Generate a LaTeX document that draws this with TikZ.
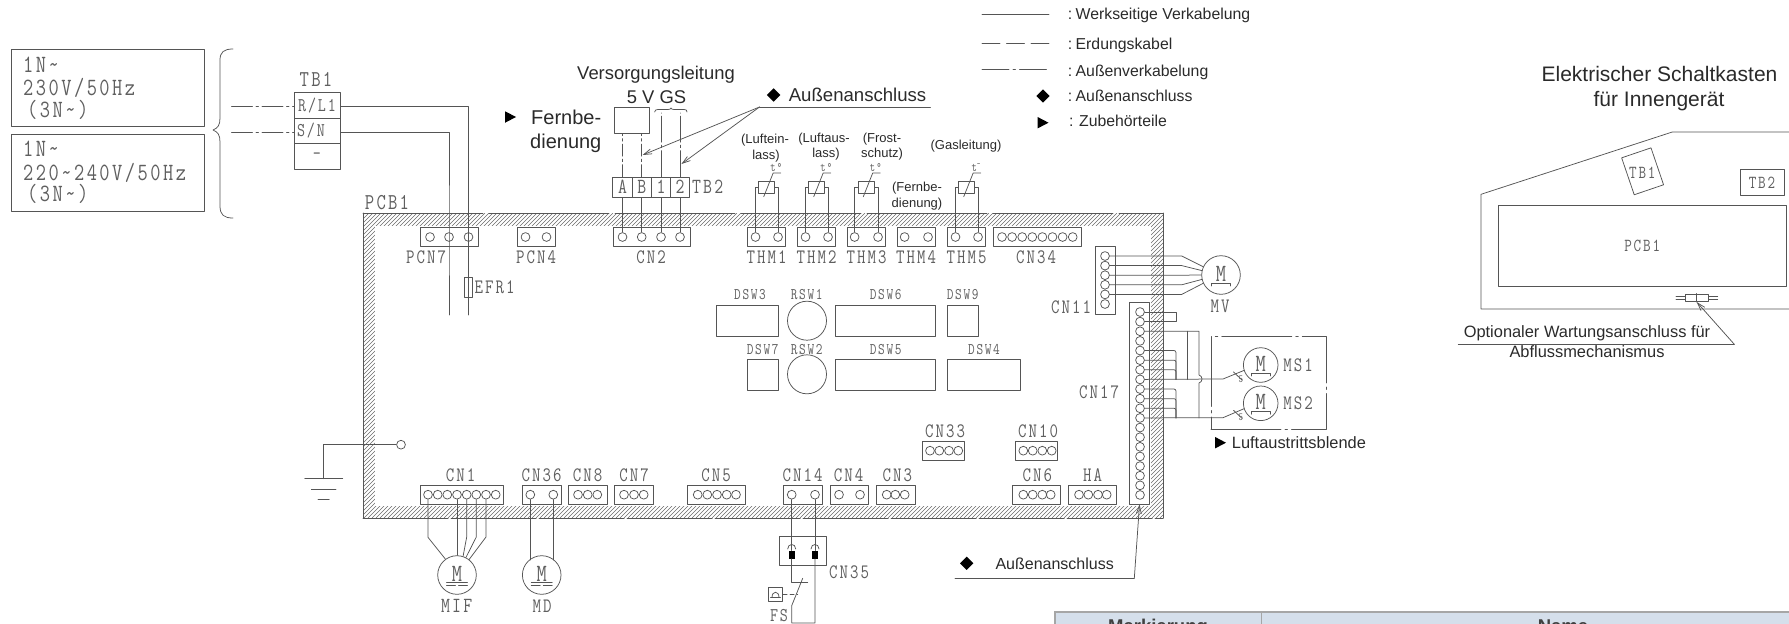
\documentclass[tikz,border=0pt]{standalone}
\usepackage{fontspec}
\setmainfont{Liberation Sans}
\newfontfamily\cadfont[FakeStretch=.8,LetterSpace=10,Scale=1.08]{Latin Modern Mono}
\usetikzlibrary{arrows.meta,shapes.geometric}
\definecolor{wirecol}{HTML}{555555}
\definecolor{cadcol}{HTML}{5F5F5F}
\definecolor{txtcol}{HTML}{2A2A2A}
\definecolor{hatchcol}{HTML}{6A6A6A}
\definecolor{headcol}{HTML}{D5DFEB}
\newcommand{\tld}{\textasciitilde}
\tikzset{
	wire/.style={draw=wirecol,line width=.75pt},
	cad/.style={font=\cadfont\fontsize{#1}{#1}\selectfont,text=cadcol,inner sep=0pt},
	cad/.default=19,
	sans/.style={font=\fontsize{#1}{#1}\selectfont,text=txtcol,inner sep=0pt},
	sans/.default=16,
	cnbox/.style={wire,rectangle,inner sep=0pt,minimum height=19pt},
	pinnode/.style={wire,circle,inner sep=0pt,minimum size=8.8pt},
	swbox/.style={wire,rectangle,inner sep=0pt},
	motor/.style={wire,circle,inner sep=0pt,minimum size=#1,cad=23},
	motor/.default=38.6pt,
	markD/.style={diamond,fill=black,inner sep=0pt,minimum size=13.5pt},
	markT/.style={isosceles triangle,isosceles triangle apex angle=60,isosceles triangle stretches,fill=black,inner sep=0pt,minimum width=11.5pt,minimum height=11pt},
	dashdot/.style={dash pattern=on 21pt off 3.5pt on 2.5pt off 3.5pt},
}
\newcommand{\pinrow}[3]{\foreach \x [count=\i] in {#3} \node[pinnode] (#1-\i) at (\x,#2) {};}
\begin{document}
\begin{tikzpicture}[x=1pt,y=-1pt,line join=round,line cap=round,>={Straight Barb[length=8pt,width=5pt]}]
	\useasboundingbox (0,0) rectangle (1789,624);
	% voltage boxes
	\node[swbox,minimum width=193pt,minimum height=77pt] (volt1) at (107.5,87.5) {};
	\node[swbox,minimum width=193pt,minimum height=77pt] (volt2) at (107.5,172.5) {};
	\node[cad=23,anchor=west] (volt1a) at (23,65) {1N\tld};
	\node[cad=23,anchor=west] (volt1b) at (23,88) {230V/50Hz};
	\node[cad=23,anchor=west] (volt1c) at (27,110) {(3N\tld)};
	\node[cad=23,anchor=west] (volt2a) at (23,149) {1N\tld};
	\node[cad=23,anchor=west] (volt2b) at (23,173) {220\tld240V/50Hz};
	\node[cad=23,anchor=west] (volt2c) at (27,194) {(3N\tld)};
	\draw[wire] (233,49) .. controls (224,49) and (220,52) .. (220,60) -- (220,118) .. controls (220,125) and (218,128) .. (213,130) .. controls (218,132) and (220,135) .. (220,142) -- (220,206) .. controls (220,215) and (224,218) .. (233,218);
	% TB1
	\node[cad=21] (TB1lbl) at (316,79) {TB1};
	\node[swbox,cad=18,minimum width=46pt,minimum height=25.5pt] (TBr) at (317,105.5) {R/L1};
	\node[swbox,cad=18,minimum width=46pt,minimum height=25.5pt] (TBs) at (317,131) {\makebox[40pt][l]{S/N}};
	\node[swbox,cad=18,minimum width=46pt,minimum height=25.5pt] (TBe) at (317,156.5) {-};
	\coordinate (netR) at (231.5,106);
	\coordinate (netS) at (231.5,132);
	\draw[wire,dashdot] (netR) -- (TBr.west |- netR);
	\draw[wire,dashdot] (netS) -- (TBs.west |- netS);
	% PCB frame
	\begin{scope}
		\clip (363,213) rectangle (1163,518);
		\foreach \x in {60,64,...,1164}
			\draw[hatchcol,line width=.55pt] (\x,518) -- ({\x+305},213);
		\fill[white] (375,226) rectangle (1151,506);
	\end{scope}
	\draw[wire] (363,518) -- (363,213);
	\draw[wire] (1163,213) -- (1163,518);
	\draw[wire,dash pattern=on 120pt off 6pt] (363,213) -- (1163,213);
	\draw[wire,line width=1pt,dash pattern=on 85pt off 3pt] (363,518) -- (1163,518);
	\node[cad=21] (PCBlbl) at (387,203) {PCB1};
	% connectors
	\foreach \n/\xa/\xb/\xl in {PCN7/420/478/426,PCN4/517/555/536,CN2/613/690/651,THM1/747.5/785.4/766.5,THM2/797.5/835/816.5,THM3/847.5/885.5/866.5,THM4/897/935/916,THM5/947.5/985.5/966.5,CN34/993/1081/1036}{
		\node[cnbox,minimum width={(\xb-\xa)*1pt}] (\n) at ({(\xa+\xb)/2},236.5) {};
		\node[cad] (\n-lbl) at (\xl,257) {\n};
	}
	\foreach \n/\xa/\xb/\xl in {CN1/420.3/503/460.7,CN36/522.3/561/541.7,CN8/568.3/607.7/587.7,CN7/614.3/653.3/634,CN5/687.7/745.7/716,CN14/783.7/822.3/802.7,CN4/830/868.7/848.7,CN3/876.3/915/897.3,CN6/1012.7/1060.7/1037.3,HA/1068.3/1116.7/1092.7}{
		\node[cnbox,minimum width={(\xb-\xa)*1pt}] (\n) at ({(\xa+\xb)/2},494.7) {};
		\node[cad] (\n-lbl) at (\xl,475) {\n};
	}
	\foreach \n/\xa/\xb/\xl in {CN33/922.3/964.3/945,CN10/1015.7/1057.7/1038}{
		\node[cnbox,minimum width={(\xb-\xa)*1pt}] (\n) at ({(\xa+\xb)/2},450.5) {};
		\node[cad] (\n-lbl) at (\xl,431) {\n};
	}
	\pinrow{PCN7}{237}{430,449,468.5}
	\pinrow{PCN4}{237}{525.5,546.5}
	\pinrow{CN2}{237}{622.5,641.7,661,680}
	\pinrow{THM1}{237}{755.5,778}
	\pinrow{THM2}{237}{805.5,828}
	\pinrow{THM3}{237}{854.6,878}
	\pinrow{THM4}{237}{904.6,928}
	\pinrow{THM5}{237}{955.5,978}
	\pinrow{CN34}{237}{1002,1012.1,1022.2,1032.3,1042.4,1052.5,1062.6,1072.7}
	\pinrow{CN1}{494.7}{428,437.7,447.3,457,466.7,476.3,486,495.7}
	\pinrow{CN36}{494.7}{530.3,553.3}
	\pinrow{CN8}{494.7}{578,587.7,597.3}
	\pinrow{CN7}{494.7}{624,634,643.7}
	\pinrow{CN5}{494.7}{697.7,707.3,717,726.7,736}
	\pinrow{CN14}{494.7}{791.7,815}
	\pinrow{CN4}{494.7}{839,860}
	\pinrow{CN3}{494.7}{886.7,895.3,904.7}
	\pinrow{CN6}{494.7}{1023.3,1032.7,1042.3,1050.7}
	\pinrow{HA}{494.7}{1079,1088.3,1098,1106.7}
	\pinrow{CN33}{450.7}{930,939.3,949,958.3}
	\pinrow{CN10}{450.7}{1023.3,1032.7,1042.3,1051.7}
	% power in
	\node[swbox,minimum width=8pt,minimum height=20pt] (EFR) at (468.6,287) {};
	\node[cad,anchor=west] (EFRlbl) at (474.5,287) {EFR1};
	\coordinate (endR) at (468.5,315);
	\coordinate (endS) at (449,315);
	\draw[wire] (TBr.east |- netR) -- (netR -| PCN7-3) -- (PCN7-3.center) -- (endR);
	\draw[wire] (TBs.east |- netS) -- (netS -| PCN7-2) -- (PCN7-2.center) -- (endS);
	% TB2 and remote line
	\foreach \n/\x/\t in {A/622.5/A,B/641.7/B,C/661/1,D/680/2}
		\node[swbox,cad=20,minimum width=19.3pt,minimum height=20pt] (TB\n) at (\x,187) {\t};
	\node[cad=20,anchor=west] (TB2lbl) at (692,187) {TB2};
	\foreach \n [count=\i] in {A,B,C,D}
		\draw[wire] (CN2-\i) -- (TB\n);
	\node[swbox,minimum width=34.5pt,minimum height=26pt] (remote) at (631.75,120) {};
	\coordinate (leadC) at (661,113);
	\coordinate (leadD) at (680,113);
	\draw[wire,dash pattern=on 12pt off 3pt on 2.5pt off 3pt] (TBA.north) -- (TBA.north |- remote.south);
	\draw[wire,dash pattern=on 12pt off 3pt on 2.5pt off 3pt] (TBB.north) -- (TBB.north |- remote.south);
	\draw[wire,dash pattern=on 26pt off 3pt on 2.5pt off 3pt] (TBC.north) -- (leadC);
	\draw[wire,dash pattern=on 26pt off 3pt on 2.5pt off 3pt] (TBD.north) -- (leadD);
	\draw[wire] (654.6,112) .. controls (655,110) and (656,109.5) .. (658,109.5) -- (668,109.5) .. controls (670,109.5) and (670.5,109) .. (671,108) .. controls (671.5,109) and (672,109.5) .. (674,109.5) -- (684,109.5) .. controls (686,109.5) and (687,110) .. (687,112);
	\node[sans=18.4] (supply1) at (656,75) {Versorgungsleitung};
	\node[sans=18.4] (supply2) at (656.5,97) {5 V GS};
	\node[markT] (remT) at (508.5,117) {};
	\node[sans=20,anchor=west] (rem1) at (531,117) {Fernbe-};
	\node[sans=20,anchor=west] (rem2) at (530,143) {dienung};
	\node[markD] (extD) at (773.6,95) {};
	\node[sans=18.6,anchor=west] (extT) at (788.6,95) {Außenanschluss};
	\coordinate (extEnd) at (930.5,107);
	\coordinate (extKnee) at (759.5,107);
	\coordinate (extA) at (642.6,155);
	\coordinate (extB) at (681.4,164);
	\draw[wire] (extEnd) -- (extKnee);
	\draw[wire,->] (extKnee) -- (extA);
	\draw[wire,->] (extKnee) -- (extB);
	% thermistors
	\foreach \n/\x/\d in {THM1/766.75/\textdegree,THM2/816.75/\textdegree,THM3/866.3/\textdegree,THM5/966.75/\textsuperscript{-}}{
		\node[swbox,minimum width=16pt,minimum height=11.6pt] (\n-t) at (\x,187.5) {};
		\draw[wire] (\n-1) -- (\n-1 |- \n-t) -- (\n-t);
		\draw[wire] (\n-2) -- (\n-2 |- \n-t) -- (\n-t);
		\draw[wire] ({\x-3},196.7) -- ({\x+6.4},173) -- ({\x+14},173);
		\node[cad=12] (\n-d) at ({\x+9.5},167.5) {t\d};
	}
	\node[sans=13] (lblA1) at (765,140) {(Luftein-};
	\node[sans=13] (lblA2) at (766,155.7) {lass)};
	\node[sans=13] (lblB1) at (824,139) {(Luftaus-};
	\node[sans=13] (lblB2) at (826,154) {lass)};
	\node[sans=13] (lblC1) at (882,139) {(Frost-};
	\node[sans=13] (lblC2) at (882,154) {schutz)};
	\node[sans=13] (lblD1) at (917,188) {(Fernbe-};
	\node[sans=13] (lblD2) at (917,204) {dienung)};
	\node[sans=13] (lblE) at (966,145.7) {(Gasleitung)};
	% switches
	\foreach \n/\xa/\xb/\y/\h/\xl in {DSW3/716.7/778.3/320.7/30.7/750,DSW6/835.7/935.7/320.7/30.7/885.7,DSW9/947.3/978.3/320.7/30.7/962.7}{
		\node[swbox,minimum width={(\xb-\xa)*1pt},minimum height=\h pt] (\n) at ({(\xa+\xb)/2},\y) {};
		\node[cad=15] (\n-lbl) at (\xl,295) {\n};
	}
	\foreach \n/\xa/\xb/\y/\h/\xl in {DSW7/747/778.3/374.7/31.3/762.7,DSW5/835.7/935.7/374.7/31.3/885.7,DSW4/947.3/1020/374.7/31.3/984}{
		\node[swbox,minimum width={(\xb-\xa)*1pt},minimum height=\h pt] (\n) at ({(\xa+\xb)/2},\y) {};
		\node[cad=15] (\n-lbl) at (\xl,349.3) {\n};
	}
	\node[wire,circle,inner sep=0pt,minimum size=39pt] (RSW1) at (807,320.7) {};
	\node[wire,circle,inner sep=0pt,minimum size=39pt] (RSW2) at (807,374.3) {};
	\node[cad=15] (RSW1lbl) at (806.7,295) {RSW1};
	\node[cad=15] (RSW2lbl) at (806.7,349.3) {RSW2};
	% fan motor
	\node[cnbox,minimum width=19.3pt,minimum height=68pt] (CN11) at (1105.3,280) {};
	\node[cad] (CN11lbl) at (1071,307.7) {CN11};
	\foreach \i in {1,...,6}
		\node[pinnode] (CN11-\i) at (1105,{256+(\i-1)*9.6}) {};
	\node[motor] (MV) at (1221,275) {\raisebox{3pt}{M}};
	\node[cad] (MVlbl) at (1220,306) {MV};
	\foreach \i/\a in {1/155,2/167,3/180,4/193,5/205}
		\draw[wire] (CN11-\i) -- (1181.7,{256+(\i-1)*9.6}) -- (MV.\a);
	% louvre motors
	\node[cnbox,minimum width=19.6pt,minimum height=202pt] (CN17) at (1139.5,403) {};
	\node[cad] (CN17lbl) at (1099,392) {CN17};
	\foreach \i in {1,...,20}
		\node[pinnode] (CN17-\i) at (1140,{312+(\i-1)*9.63}) {};
	\coordinate (busA) at (1176,0);
	\coordinate (busB) at (1187.7,0);
	\coordinate (busC) at (1199,0);
	\draw[wire] (CN17-1) -- (CN17-1 -| busA) -- (CN17-2 -| busA) -- (CN17-2);
	\foreach \i in {5,6,7}
		\draw[wire,rounded corners=2pt] (CN17-\i) -- (CN17-\i -| busA) -- (CN17-8 -| busA);
	\foreach \i in {9,10,11}
		\draw[wire,rounded corners=2pt] (CN17-\i) -- (CN17-\i -| busA) -- (CN17-12 -| busA);
	\draw[wire] (CN17-3 -| busB) -- (CN17-8 -| busB);
	\draw[wire] (CN17-3) -- (CN17-3 -| busC) -- (1199,375) .. controls (1203,376) and (1203,382) .. (1199,383) -- (CN17-12 -| busC);
	\node[wire,minimum width=115pt,minimum height=92.3pt,dash pattern=on 70pt off 4pt on 2.5pt off 4pt,inner sep=0pt] (msbox) at (1268.5,382.9) {};
	\node[motor=34.6pt] (MSa) at (1260.7,365) {\raisebox{3pt}{M}};
	\node[motor=34.6pt] (MSb) at (1260.7,403.3) {\raisebox{3pt}{M}};
	\draw[wire] (CN17-8) -- (1223,379) -- (MSa.198);
	\draw[wire] (CN17-12) -- (1223,417.7) -- (MSb.198);
	\foreach \m/\y in {a/365,b/403.3}{
		\draw[wire] (1233.5,{\y+7}) -- (1242,{\y+15});
		\node[cad=10] (five\m) at (1241,{\y+14}) {5};
	}
	\node[cad] (MSalbl) at (1298,365) {MS1};
	\node[cad] (MSblbl) at (1298,403) {MS2};
	\foreach \m in {MV,MSa,MSb}
		\draw[wire] ([shift={(-9.5,11)}]\m.center) -- ([shift={(-9.5,8)}]\m.center) -- ([shift={(9.5,8)}]\m.center) -- ([shift={(9.5,11)}]\m.center);
	\node[markT] (louvT) at (1218.5,442.7) {};
	\node[sans=16.4,anchor=west] (louvL) at (1231.7,443) {Luftaustrittsblende};
	% ground
	\node[pinnode] (GNDp) at (401,444.7) {};
	\coordinate (gnd) at (323.7,478.7);
	\draw[wire] (GNDp) -- (GNDp -| gnd) -- (gnd);
	\foreach \dy/\w in {0/19,10.3/12.3,20.6/5.6}
		\draw[wire] ([shift={(-\w,\dy)}]gnd) -- ([shift={(\w,\dy)}]gnd);
	% drain and indoor fan motors
	\node[motor] (MIF) at (457,575) {\raisebox{3pt}{M}};
	\node[motor] (MD) at (541.7,575) {\raisebox{3pt}{M}};
	\node[cad=20] (MIFlbl) at (456.7,606) {MIF};
	\node[cad] (MDlbl) at (542,606) {MD};
	\foreach \m in {MIF,MD}{
		\draw[wire] ([shift={(-10.5,7.3)}]\m.center) -- ([shift={(10.5,7.3)}]\m.center);
		\draw[wire,dash pattern=on 9pt off 3pt] ([shift={(-10.5,10.8)}]\m.center) -- ([shift={(10.5,10.8)}]\m.center);
	}
	\draw[wire] (CN1-1) -- (428,537.3) -- (MIF.126);
	\draw[wire] (CN1-4) -- (MIF.90);
	\draw[wire] (CN1-5) -- (466.7,537) -- (MIF.72);
	\draw[wire] (CN1-6) -- (476.3,537) -- (MIF.63);
	\draw[wire] (CN1-7) -- (486,537) -- (MIF.52);
	\draw[wire] (CN36-1) -- (CN36-1 |- MD.130);
	\draw[wire] (CN36-2) -- (CN36-2 |- MD.50);
	% float switch
	\node[swbox,minimum width=47.4pt,minimum height=28.3pt] (CN35) at (803,550.8) {};
	\node[cad] (CN35lbl) at (849,572) {CN35};
	\node[fill=black,inner sep=0pt,minimum width=6pt,minimum height=8pt] (plugA) at (791.7,554.7) {};
	\node[fill=black,inner sep=0pt,minimum width=6pt,minimum height=8pt] (plugB) at (815,554.7) {};
	\draw[wire] (787.7,549) .. controls (787.7,543) and (795.7,543) .. (795.7,549);
	\draw[wire] (811,549) .. controls (811,543) and (819,543) .. (819,549);
	\coordinate (endA) at (791.7,623);
	\coordinate (endB) at (815,623);
	\draw[wire] (CN14-1) -- (plugA);
	\draw[wire] (CN14-2) -- (plugB);
	\draw[wire] (plugB) -- (endB) -- (endA) -- (791.7,605.7) -- (802.7,578.3);
	\draw[wire] (plugA) -- (791.7,582.7) -- (807.7,582.7);
	\node[swbox,minimum width=14.4pt,minimum height=14pt] (FSbox) at (775.5,594.3) {};
	\draw[wire] (770.5,597.5) -- (780.5,597.5);
	\draw[wire] (772,597.5) .. controls (772,590.5) and (779,590.5) .. (779,597.5);
	\draw[wire,dash pattern=on 4pt off 3pt] (FSbox.east) -- (797.7,594.3);
	\node[cad=18] (FSlbl) at (779,615.5) {FS};
	% lower label
	\node[markD] (lowD) at (966.7,563.3) {};
	\node[sans=16] (lowT) at (1054.7,563.3) {Außenanschluss};
	\coordinate (lowEnd) at (955,578.3);
	\coordinate (lowKnee) at (1134.3,578.3);
	\draw[wire] (lowEnd) -- (lowKnee);
	\draw[wire,->] (lowKnee) -- (CN17.south);
	% legend
	\coordinate (legA1) at (982,14);
	\coordinate (legA2) at (1049,14);
	\coordinate (legB1) at (982,43);
	\coordinate (legB2) at (1049,43);
	\coordinate (legC1) at (982,69);
	\coordinate (legC2) at (1049,69);
	\draw[wire] (legA1) -- (legA2);
	\draw[wire,dash pattern=on 18pt off 6.5pt] (legB1) -- (legB2);
	\draw[wire,dash pattern=on 27pt off 4pt on 2.5pt off 4pt] (legC1) -- (legC2);
	\node[sans=15.8,anchor=west] (legA) at (1067.6,15) {:\hspace{3.5pt}Werkseitige Verkabelung};
	\node[sans=15.8,anchor=west] (legB) at (1067.6,45) {:\hspace{3.5pt}Erdungskabel};
	\node[sans=15.8,anchor=west] (legC) at (1067.6,72) {:\hspace{3.5pt}Außenverkabelung};
	\node[sans=15.8,anchor=west] (legD) at (1067.6,96) {:\hspace{3.5pt}Außenanschluss};
	\node[sans=15.8,anchor=west] (legE) at (1069,121) {:\hspace{5.5pt}Zubehörteile};
	\node[markD] (legDm) at (1043,96) {};
	\node[markT] (legTr) at (1041,122.7) {};
	% control box
	\node[sans=21] (title1) at (1659.5,74.3) {Elektrischer Schaltkasten};
	\node[sans=21] (title2) at (1659,101) {für Innengerät};
	\draw[wire] (1789,132) -- (1672.3,132) -- (1481,194.3) -- (1481,309) -- (1789,309);
	\node[swbox,minimum width=31pt,minimum height=39pt,rotate=18.8] (boxTBa) at (1642.6,171.3) {};
	\node[cad=17] (boxTBalbl) at (1642.3,172.3) {TB1};
	\node[swbox,cad=17,minimum width=44pt,minimum height=26pt] (boxTBb) at (1762,182.3) {TB2};
	\node[swbox,cad=17,minimum width=287.7pt,minimum height=80.3pt] (boxPCB) at (1642.2,245.9) {PCB1};
	\node[swbox,minimum width=23.3pt,minimum height=7.7pt] (drain) at (1696.7,297.8) {};
	\draw[wire] (drain.north) -- (drain.south);
	\foreach \y in {296,299.4}{
		\draw[wire] (1676,\y) -- (drain.west |- 0,\y);
		\draw[wire] (drain.east |- 0,\y) -- (1717.7,\y);
	}
	\coordinate (optEnd) at (1458.3,344.3);
	\coordinate (optKnee) at (1734.3,344.3);
	\draw[wire] (optEnd) -- (optKnee);
	\draw[wire,->] (optKnee) -- (drain.south);
	\node[sans=16.4] (opt1) at (1587,333) {Optionaler Wartungsanschluss für};
	\node[sans=16.4] (opt2) at (1587,352) {Abflussmechanismus};
	% table head
	\fill[headcol] (1055,613) rectangle (1789,624);
	\draw[draw=gray!70,line width=2.5pt,line cap=butt] (1054,612) -- (1789,612);
	\draw[draw=gray!70,line width=1.8pt,line cap=butt] (1055,612) -- (1055,624);
	\draw[draw=gray!70,line width=1.5pt,line cap=butt] (1261.5,612) -- (1261.5,624);
	\node[sans=18.5,anchor=base,font=\bfseries\fontsize{18.5}{18.5}\selectfont,text=black!75] (headA) at (1158,632) {Markierung};
	\node[sans=18.5,anchor=base,font=\bfseries\fontsize{18.5}{18.5}\selectfont,text=black!75] (headB) at (1563,632) {Name};
\end{tikzpicture}
\end{document}
